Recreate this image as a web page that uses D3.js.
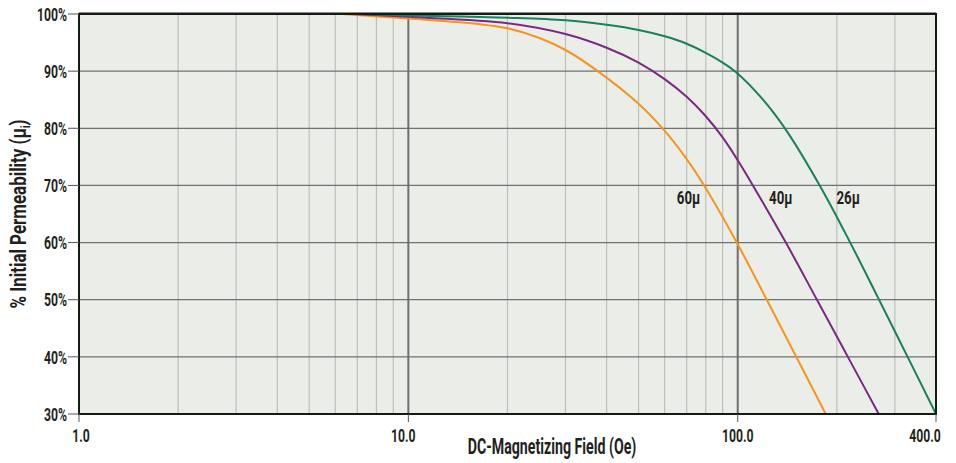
<!DOCTYPE html>
<html>
<head>
<meta charset="utf-8">
<script src="https://cdn.jsdelivr.net/npm/d3@7"></script>
<style>
  body { margin: 0; background: #fff; }
  text { font-family: Roboto, "Noto Sans", sans-serif; font-weight: bold; fill: #231f20; }
</style>
</head>
<body>
<script>
// Curve data: [field (Oe), % initial permeability]
var curve60 = [[6.3, 100], [10, 99.2], [16.5, 98.2], [20, 97.5], [25, 95.8], [30, 93.7], [37.4, 90.1], [50, 84.3], [59.5, 79.8], [70, 74.6], [79.4, 69.8], [100, 59.7], [122, 50.2], [150, 40.2], [185, 30]];
var curve40 = [[6.8, 100], [10, 99.5], [20, 98.4], [30, 96.5], [40, 94.1], [50, 91.5], [60, 88.6], [70, 85.5], [80, 82.1], [90, 78.4], [100, 74.4], [112, 69.7], [140, 60], [174, 50], [216, 40], [268, 30]];
var curve26 = [[7.5, 99.95], [10, 99.75], [20, 99.35], [30, 98.9], [40, 98.1], [50, 97.2], [60, 96.1], [70, 94.8], [80, 93.2], [90, 91.5], [98.5, 89.9], [119, 85.1], [140.6, 79.6], [179, 69.6], [220, 59.9], [266, 50.5], [328, 40], [400, 30]];

var seriesNames = ["60\u03bc", "40\u03bc", "26\u03bc"];
var labelAt = [[65.3, 66.8], [124.5, 66.8], [199.4, 66.8]];

var xTicks = [1, 10, 100, 400];
var xTickLabels = ["1.0", "10.0", "100.0", "400.0"];
var yTicks = [30, 40, 50, 60, 70, 80, 90, 100];

var series = [
  { name: seriesNames[0], values: curve60, color: "#f7941d", label: labelAt[0] },
  { name: seriesNames[1], values: curve40, color: "#7c2883", label: labelAt[1] },
  { name: seriesNames[2], values: curve26, color: "#18805b", label: labelAt[2] }
];

var svgOptions = { width: 956, height: 463 };
var margin = { left: 79, right: 20, top: 14, bottom: 49 };
var w = svgOptions.width - margin.left - margin.right;
var h = svgOptions.height - margin.top - margin.bottom;

// squeeze text to imitate the condensed face of the original
var condense = function (sel, k) {
  sel.each(function () {
    var len = this.getComputedTextLength();
    d3.select(this).attr("textLength", len * k).attr("lengthAdjust", "spacingAndGlyphs");
  });
};

var svg = d3.select("body").append("svg")
  .attr("width", svgOptions.width)
  .attr("height", svgOptions.height);

var g = svg.append("g").attr("transform", "translate(" + margin.left + "," + margin.top + ")");

var x = d3.scaleLog().domain([1, 400]).range([0, w]);
var y = d3.scaleLinear().domain([30, 100]).range([h, 0]);

svg.append("clipPath").attr("id", "plot").append("rect").attr("width", w).attr("height", h);

// plot background
g.append("rect").attr("width", w).attr("height", h).attr("fill", "#ebeee8");

// minor vertical grid
var minor = [];
[1, 10, 100].forEach(function (d) {
  for (var k = 2; k <= 9; k++) { if (d * k < 400) minor.push(d * k); }
});
g.selectAll(".vminor").data(minor).enter().append("line")
  .attr("x1", function (d) { return x(d); }).attr("x2", function (d) { return x(d); })
  .attr("y1", 0).attr("y2", h)
  .attr("stroke", "#bdbfbc").attr("stroke-width", 1.2);

// horizontal grid
g.selectAll(".hgrid").data(yTicks.slice(1, -1)).enter().append("line")
  .attr("x1", 0).attr("x2", w)
  .attr("y1", function (d) { return y(d); }).attr("y2", function (d) { return y(d); })
  .attr("stroke", "#707070").attr("stroke-width", 1.2);

// major vertical grid
g.selectAll(".vmajor").data([10, 100]).enter().append("line")
  .attr("x1", function (d) { return x(d); }).attr("x2", function (d) { return x(d); })
  .attr("y1", 0).attr("y2", h)
  .attr("stroke", "#6e6e6e").attr("stroke-width", 2);

// curves
var line = d3.line()
  .x(function (d) { return x(d[0]); })
  .y(function (d) { return y(d[1]); })
  .curve(d3.curveCatmullRom.alpha(0.5));

g.append("g").attr("clip-path", "url(#plot)")
  .selectAll(".curve").data(series).enter().append("path")
  .attr("d", function (d) { return line(d.values); })
  .attr("fill", "none")
  .attr("stroke", function (d) { return d.color; })
  .attr("stroke-width", 2);

// curve labels
g.selectAll(".clabel").data(series).enter().append("text")
  .attr("x", function (d) { return x(d.label[0]); })
  .attr("y", function (d) { return y(d.label[1]); })
  .attr("font-size", 18.5)
  .text(function (d) { return d.name; })
  .call(condense, 0.72);

// frame
g.append("line").attr("x1", 0).attr("x2", w).attr("y1", -1.5).attr("y2", -1.5).attr("stroke", "#8a9088").attr("stroke-width", 1);
g.append("rect").attr("width", w).attr("height", h)
  .attr("fill", "none").attr("stroke", "#141a14").attr("stroke-width", 2);

// y ticks
g.selectAll(".ytick").data(yTicks).enter().append("line")
  .attr("x1", -11).attr("x2", 0)
  .attr("y1", function (d) { return y(d); }).attr("y2", function (d) { return y(d); })
  .attr("stroke", "#555").attr("stroke-width", 1);
g.selectAll(".ylab").data(yTicks).enter().append("text")
  .attr("x", -12)
  .attr("y", function (d) { return y(d) + 6.7; })
  .attr("text-anchor", "end")
  .attr("font-size", 18.5)
  .text(function (d) { return d + "%"; })
  .call(condense, 0.66);

// x ticks
var xNudge = [2, -5, 0, -11];
g.selectAll(".xtick").data(xTicks).enter().append("line")
  .attr("x1", function (d) { return x(d); }).attr("x2", function (d) { return x(d); })
  .attr("y1", h).attr("y2", h + 8)
  .attr("stroke", "#555").attr("stroke-width", 1);
g.selectAll(".xlab").data(xTicks).enter().append("text")
  .attr("x", function (d, i) { return x(d) + xNudge[i]; })
  .attr("y", h + 27.7)
  .attr("text-anchor", "middle")
  .attr("font-size", 18.5)
  .text(function (d, i) { return xTickLabels[i]; })
  .call(condense, 0.66);

// axis titles
svg.append("text")
  .attr("x", 552).attr("y", 454)
  .attr("text-anchor", "middle")
  .attr("font-size", 22.5)
  .text("DC-Magnetizing Field (Oe)")
  .call(condense, 0.63);

var yt = svg.append("text")
  .attr("transform", "translate(26," + (margin.top + h / 2) + ") rotate(-90)")
  .attr("text-anchor", "middle")
  .attr("font-size", 22.5);
yt.append("tspan").text("% Initial Permeability (\u03bc");
yt.append("tspan").attr("font-size", 13).attr("dy", 4).text("i");
yt.append("tspan").attr("dy", -4).text(")");
// condense the whole rotated title by scaling along its length
var ytLen = yt.node().getComputedTextLength();
yt.attr("transform", "translate(26," + (margin.top + h / 2) + ") rotate(-90) scale(" + (189 / ytLen) + ",1)");
</script>
</body>
</html>
